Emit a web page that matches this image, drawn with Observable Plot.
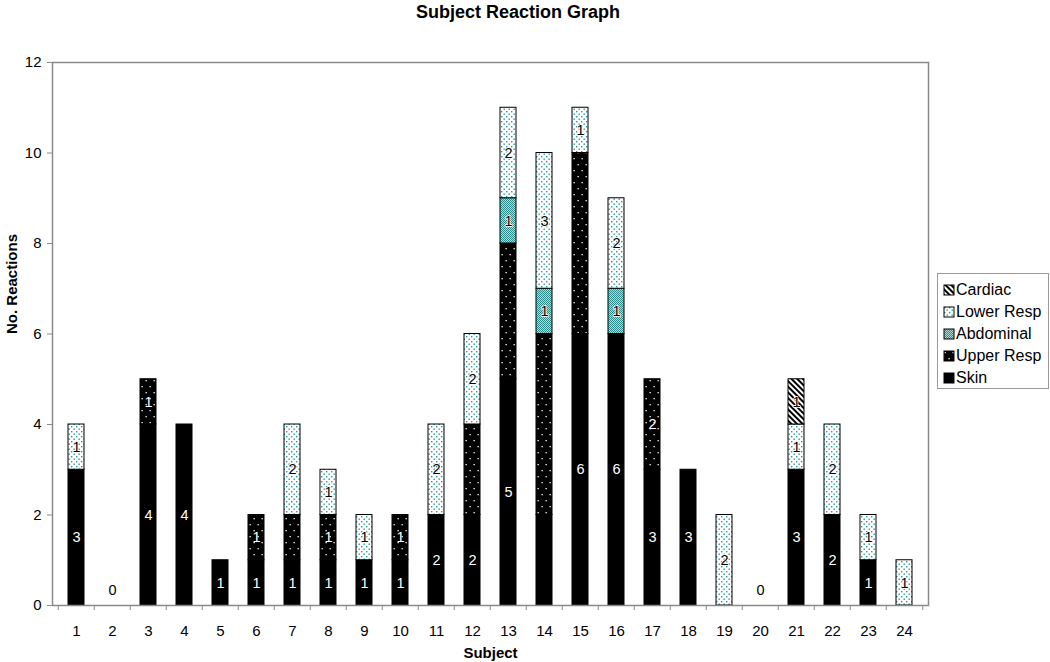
<!DOCTYPE html>
<html>
<head>
<meta charset="utf-8">
<script src="https://cdn.jsdelivr.net/npm/d3@7"></script>
<script src="https://cdn.jsdelivr.net/npm/@observablehq/plot@0.6"></script>
<style>
  body { margin: 0; background: #fff; font-family: "Liberation Sans", Arial, sans-serif; color: #000; }
  #wrap { position: relative; width: 1050px; height: 662px; overflow: hidden; }
  #title { position: absolute; left: 0; top: 2px; width: 1036px; text-align: center; font-weight: bold; font-size: 18px; line-height: 20px; }
  #chart { position: absolute; left: 0; top: 30px; }
  #defs { position: absolute; left: 0; top: 0; width: 0; height: 0; }
  #legend { position: absolute; left: 937px; top: 273px; width: 112px; height: 116px; border: 1px solid #999; box-sizing: border-box; background: #fff; padding-top: 5px; }
  .item { height: 22px; display: flex; align-items: center; font-size: 16px; white-space: nowrap; }
  .item svg { margin-left: 5px; margin-right: 1px; }
</style>
</head>
<body>
<div id="wrap">
  <svg id="defs" width="0" height="0">
    <defs>
      <pattern id="pUpper" width="8" height="12" patternUnits="userSpaceOnUse">
        <rect width="8" height="12" fill="#000"/>
        <rect x="1.5" y="2" width="1.3" height="1.3" fill="#fff"/>
        <rect x="5.5" y="8" width="1.3" height="1.3" fill="#fff"/>
      </pattern>
      <pattern id="pLower" width="5" height="5" patternUnits="userSpaceOnUse">
        <rect width="5" height="5" fill="#fff"/>
        <rect x="1" y="1" width="1.4" height="1.4" fill="#2a9696"/>
        <rect x="3.5" y="3.5" width="1.4" height="1.4" fill="#2a9696"/>
      </pattern>
      <pattern id="pAbdo" width="2" height="2" patternUnits="userSpaceOnUse">
        <rect width="2" height="2" fill="#b3d6d6"/>
        <rect x="0" y="0" width="1" height="1" fill="#2f8c8c"/>
        <rect x="1" y="1" width="1" height="1" fill="#2f8c8c"/>
      </pattern>
      <pattern id="pCardiac" width="4" height="4" patternUnits="userSpaceOnUse" patternTransform="rotate(-45)">
        <rect width="4" height="4" fill="#fff"/>
        <rect width="2" height="4" fill="#000"/>
      </pattern>
    </defs>
  </svg>
  <div id="title">Subject Reaction Graph</div>
  <div id="chart"></div>
  <div id="legend"></div>
</div>
<script>
const subjects = ["1","2","3","4","5","6","7","8","9","10","11","12","13","14","15","16","17","18","19","20","21","22","23","24"];
const categories = ["Skin", "Upper Resp", "Abdominal", "Lower Resp", "Cardiac"];
const skin      = [3,0,4,4,1,1,1,1,1,1,2,2,5,2,6,6,3,3,0,0,3,2,1,0];
const upperResp = [0,0,1,0,0,1,1,1,0,1,0,2,3,4,4,0,2,0,0,0,0,0,0,0];
const abdominal = [0,0,0,0,0,0,0,0,0,0,0,0,1,1,0,1,0,0,0,0,0,0,0,0];
const lowerResp = [1,0,0,0,0,0,2,1,1,0,2,2,2,3,1,2,0,0,2,0,1,2,1,1];
const cardiac   = [0,0,0,0,0,0,0,0,0,0,0,0,0,0,0,0,0,0,0,0,1,0,0,0];
const yTicks = [0, 2, 4, 6, 8, 10, 12];
// segments whose value label is not visible in the original
const unlabeled = ["7|Upper Resp", "12|Upper Resp", "13|Upper Resp", "14|Skin", "14|Upper Resp", "15|Upper Resp"];

const series = {"Skin": skin, "Upper Resp": upperResp, "Abdominal": abdominal, "Lower Resp": lowerResp, "Cardiac": cardiac};
const data = [];
subjects.forEach((s, i) => {
  categories.forEach(c => {
    if (series[c][i] > 0) data.push({subject: s, category: c, value: series[c][i]});
  });
});
const zeroSubjects = subjects.filter((s, i) => categories.every(c => series[c][i] === 0));

const fills = ["#000", "url(#pUpper)", "url(#pAbdo)", "url(#pLower)", "url(#pCardiac)"];
const whiteLabel = new Set(["Skin", "Upper Resp"]);
const showLabel = d => !unlabeled.includes(d.subject + "|" + d.category);

const W = 1050, H = 632, mL = 52, mR = 122, mT = 32, mB = 57;
const half = (W - mL - mR) / subjects.length / 2;

const chart = Plot.plot({
  width: W, height: H,
  marginLeft: mL, marginRight: mR, marginTop: mT, marginBottom: mB,
  style: {fontFamily: "'Liberation Sans', Arial, sans-serif", fontSize: "15px", background: "#fff", color: "#000"},
  x: {type: "band", domain: subjects, paddingInner: 0.56, paddingOuter: 0.28, axis: null},
  y: {domain: [0, 12], axis: null},
  color: {domain: categories, range: fills},
  marks: [
    Plot.barY(data, {x: "subject", y: "value", fill: "category", stroke: "#000", strokeWidth: 1}),
    Plot.text(data, Plot.stackY({x: "subject", y: "value", z: "category",
      text: d => (whiteLabel.has(d.category) && showLabel(d)) ? String(d.value) : "",
      fill: "#fff", fontSize: 14.5})),
    Plot.text(data, Plot.stackY({x: "subject", y: "value", z: "category",
      text: d => (!whiteLabel.has(d.category) && showLabel(d)) ? String(d.value) : "",
      fill: "#000", stroke: "#fff", strokeWidth: 1.5, fontSize: 14.5})),
    Plot.text(zeroSubjects, {x: d => d, y: 0, text: () => "0", dy: -15, fontSize: 14.5, fill: "#000"}),
    Plot.frame({stroke: "#8a8a8a", strokeWidth: 1.5}),
    Plot.axisY(yTicks, {anchor: "left", tickSize: 5, tickPadding: 6, fontSize: 15, stroke: "#8a8a8a", label: null}),
    Plot.axisX({anchor: "bottom", tickSize: 0, tickPadding: 20, fontSize: 15, label: null}),
    Plot.axisX({anchor: "bottom", tickSize: 5, tickFormat: () => "", dx: -half, stroke: "#8a8a8a", label: null}),
    Plot.axisX([subjects[subjects.length - 1]], {anchor: "bottom", tickSize: 5, tickFormat: () => "", dx: half, stroke: "#8a8a8a", label: null}),
    Plot.text(["No. Reactions"], {frameAnchor: "left", rotate: -90, dx: -40, fontWeight: "bold", fontSize: 15}),
    Plot.text(["Subject"], {frameAnchor: "bottom", dy: 52, fontWeight: "bold", fontSize: 15})
  ]
});
document.getElementById("chart").appendChild(chart);

// legend (top to bottom in reverse stacking order)
const legend = d3.select("#legend");
categories.slice().reverse().forEach(c => {
  const item = legend.append("div").attr("class", "item");
  const sw = item.append("svg").attr("width", 12).attr("height", 12);
  sw.append("rect").attr("x", 1).attr("y", 1).attr("width", 10).attr("height", 10)
    .attr("fill", fills[categories.indexOf(c)]).attr("stroke", "#000").attr("stroke-width", 1);
  item.append("span").text(c);
});
</script>
</body>
</html>
